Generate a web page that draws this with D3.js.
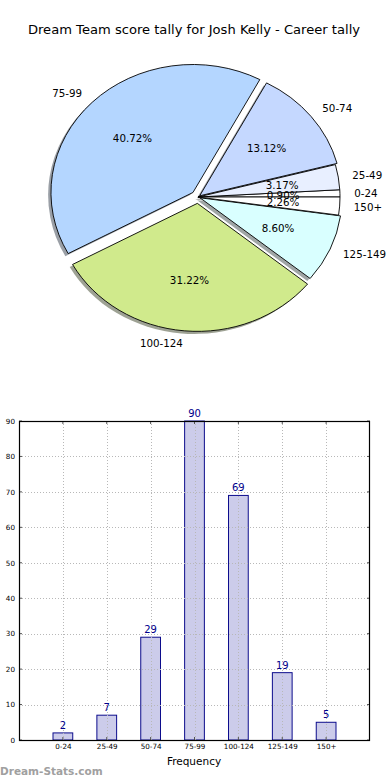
<!DOCTYPE html>
<html><head><meta charset="utf-8">
<script src="https://cdn.jsdelivr.net/npm/d3@7"></script>
<style>
html,body{margin:0;padding:0;background:#fff;}
svg{display:block;font-family:"DejaVu Sans",sans-serif;}
</style></head>
<body>
<svg id="chart" width="390" height="780"></svg>
<script>
// ---- data ----
const categories = ["0-24","25-49","50-74","75-99","100-124","125-149","150+"];
const counts = [2,7,29,90,69,19,5];
const yTicks = [0,10,20,30,40,50,60,70,80,90];
const titleText = "Dream Team score tally for Josh Kelly - Career tally";
const xLabelText = "Frequency";
const watermark = "Dream-Stats.com";

// ---- style ----
const sliceColors = ["#ffffff","#e8efff","#c5d8ff","#b4d6ff","#d0ea8c","#d9ffff","#ffffff"];
const explode = [0, 0, 0.015, 0.05, 0.05, 0.015, 0];

const svg = d3.select("#chart");

svg.append("text").attr("x",194).attr("y",34).attr("text-anchor","middle")
  .attr("font-size","13.1px").attr("fill","#000").text(titleText);

// ---- pie (elliptical, matplotlib style) ----
const cx = 198, cy = 197, rx = 142, ry = 128, R = 100;
const sx = rx / R, sy = ry / R;
const total = d3.sum(counts);
const pie = d3.pie().sort(null).value(d => d)
  .startAngle(Math.PI/2).endAngle(Math.PI/2 - 2*Math.PI);
const arcs = pie(counts);
const arcGen = d3.arc().innerRadius(0).outerRadius(R);

const pieG = svg.append("g");
function off(d,i){
  const mid = (d.startAngle + d.endAngle)/2;
  return [explode[i]*R*Math.sin(mid), -explode[i]*R*Math.cos(mid)];
}
// shadows
arcs.forEach((d,i)=>{
  const [ox,oy] = off(d,i);
  const c = d3.rgb(sliceColors[i]);
  pieG.append("path")
    .attr("transform",`translate(${cx-0.02*rx},${cy+0.02*ry}) scale(${sx},${sy}) translate(${ox},${oy})`)
    .attr("d", arcGen(d))
    .attr("fill", d3.rgb(c.r*0.3,c.g*0.3,c.b*0.3))
    .attr("fill-opacity",0.5);
});
// wedges
arcs.forEach((d,i)=>{
  const [ox,oy] = off(d,i);
  pieG.append("path")
    .attr("transform",`translate(${cx},${cy}) scale(${sx},${sy}) translate(${ox},${oy})`)
    .attr("d", arcGen(d))
    .attr("fill", sliceColors[i])
    .attr("stroke","#000").attr("stroke-width",0.9)
    .attr("vector-effect","non-scaling-stroke");
});
// labels
arcs.forEach((d,i)=>{
  const [ox,oy] = off(d,i);
  const mid = (d.startAngle + d.endAngle)/2;
  const ux = Math.sin(mid), uy = -Math.cos(mid);
  const lx = cx + sx*(ox + 1.1*R*ux), ly = cy + sy*(oy + 1.1*R*uy);
  pieG.append("text").attr("x",lx).attr("y",ly).attr("dy","0.36em")
    .attr("text-anchor", ux > 0 ? "start" : "end")
    .attr("font-size","10.3px").attr("fill","#000").text(categories[i]);
  const px = cx + sx*(ox + 0.6*R*ux), py = cy + sy*(oy + 0.6*R*uy);
  pieG.append("text").attr("x",px).attr("y",py).attr("dy","0.36em")
    .attr("text-anchor","middle")
    .attr("font-size","10.3px").attr("fill","#000")
    .text((counts[i]/total*100).toFixed(2) + "%");
});

// ---- bar chart ----
const L = 19, Rt = 370, T = 421, B = 740;
const x = d3.scaleLinear().domain([-1, categories.length]).range([L, Rt]);
const y = d3.scaleLinear().domain([0, 90]).range([B, T]);
const bw = 0.45;
const barG = svg.append("g");

barG.selectAll("rect.bar").data(counts).join("rect")
  .attr("class","bar")
  .attr("x",(d,i)=>x(i - bw/2)).attr("width", x(bw) - x(0))
  .attr("y", d=>y(d)).attr("height", d=>y(0)-y(d))
  .attr("fill","#ccccea").attr("stroke","#0c0c8c").attr("stroke-width",1);

// grid (drawn over bars)
const grid = barG.append("g").attr("stroke","#b8b8b8").attr("stroke-width",1)
  .attr("stroke-dasharray","1,2");
yTicks.slice(1, -1).forEach(t=>{
  grid.append("line").attr("x1",L).attr("x2",Rt).attr("y1",Math.round(y(t))+0.5).attr("y2",Math.round(y(t))+0.5);
});
categories.forEach((c,i)=>{
  grid.append("line").attr("x1",Math.round(x(i))+0.5).attr("x2",Math.round(x(i))+0.5).attr("y1",T).attr("y2",B);
});

// axes via d3
const yAxis = d3.axisLeft(y).tickValues(yTicks).tickSize(0).tickPadding(4);
const ya = barG.append("g").attr("transform",`translate(${L},0)`).call(yAxis);
ya.select(".domain").remove();
ya.selectAll("text").attr("font-size","7.2px").attr("font-family","DejaVu Sans").attr("fill","#000");

const xAxis = d3.axisBottom(x).tickValues(d3.range(categories.length))
  .tickFormat(i=>categories[i]).tickSize(0).tickPadding(4);
const xa = barG.append("g").attr("transform",`translate(0,${B})`).call(xAxis);
xa.select(".domain").remove();
xa.selectAll("text").attr("font-size","7.2px").attr("font-family","DejaVu Sans").attr("fill","#000");

// small inside tick marks
yTicks.forEach(t=>{
  barG.append("line").attr("x1",L).attr("x2",L+3).attr("y1",y(t)).attr("y2",y(t)).attr("stroke","#555");
  barG.append("line").attr("x1",Rt-3).attr("x2",Rt).attr("y1",y(t)).attr("y2",y(t)).attr("stroke","#555");
});
categories.forEach((c,i)=>{
  barG.append("line").attr("x1",x(i)).attr("x2",x(i)).attr("y1",B).attr("y2",B-3).attr("stroke","#555");
  barG.append("line").attr("x1",x(i)).attr("x2",x(i)).attr("y1",T).attr("y2",T+3).attr("stroke","#555");
});

barG.append("rect").attr("x",L+0.5).attr("y",T+0.5).attr("width",Rt-L-1).attr("height",B-T)
  .attr("fill","none").attr("stroke","#000").attr("stroke-width",1.2);

// value labels
barG.selectAll("text.val").data(counts).join("text")
  .attr("class","val")
  .attr("x",(d,i)=>x(i)).attr("y",d=>y(d)-4)
  .attr("text-anchor","middle").attr("font-size","10px").attr("fill","#00008b")
  .text(d=>d);

svg.append("text").attr("x",194).attr("y",765).attr("text-anchor","middle")
  .attr("font-size","10.5px").attr("fill","#000").text(xLabelText);

svg.append("text").attr("x",0).attr("y",775)
  .attr("font-size","10.5px").attr("font-weight","bold").attr("fill","#a0a0a0").text(watermark);
</script>
</body></html>
